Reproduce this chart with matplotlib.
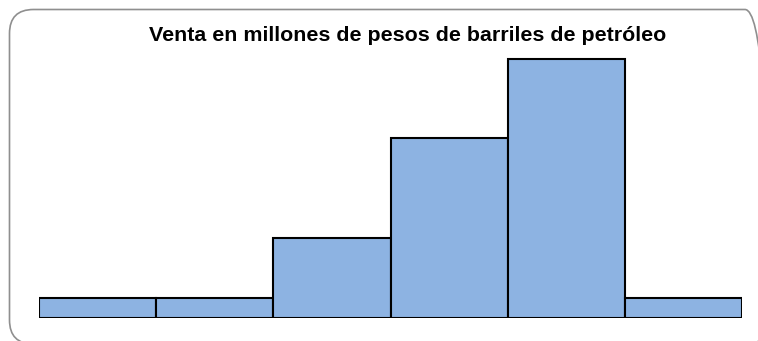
import matplotlib
matplotlib.use("Agg")
import matplotlib.pyplot as plt
from matplotlib.patches import FancyBboxPatch
from matplotlib.transforms import IdentityTransform

title = "Venta en millones de pesos de barriles de petróleo"
classes = [1, 2, 3, 4, 5, 6]
ventas = [1, 1, 4, 9, 13, 1]

W, H = 758, 341
fig = plt.figure(figsize=(W / 100, H / 100), dpi=100)
fig.patch.set_facecolor("white")

# rounded frame around the chart area (pixel coordinates, origin bottom-left)
left, top, right, bottom = 9.5, 9.5, 769, 344
frame = FancyBboxPatch((left, H - bottom), right - left, bottom - top,
                       boxstyle="round,pad=0,rounding_size=24",
                       transform=IdentityTransform(), facecolor="none",
                       edgecolor="#8f8f8f", linewidth=1.2)
fig.patches.append(frame)

unit = 19.95
base = 318
ymax = 14
ax = fig.add_axes([39 / W, 1 - base / H, (742 - 39) / W, ymax * unit / H])
ax.bar(classes, ventas, width=1.0, color="#8DB3E2", edgecolor="black", linewidth=1.5)
ax.set_xlim(0.5, 6.5)
ax.set_ylim(0, ymax)
ax.axis("off")

fig.text(408 / W, 1 - 41 / H, title, ha="center", va="baseline",
         fontsize=15.4, fontweight="bold", family="Liberation Sans")

fig.savefig("out.png", dpi=100, facecolor="white")
